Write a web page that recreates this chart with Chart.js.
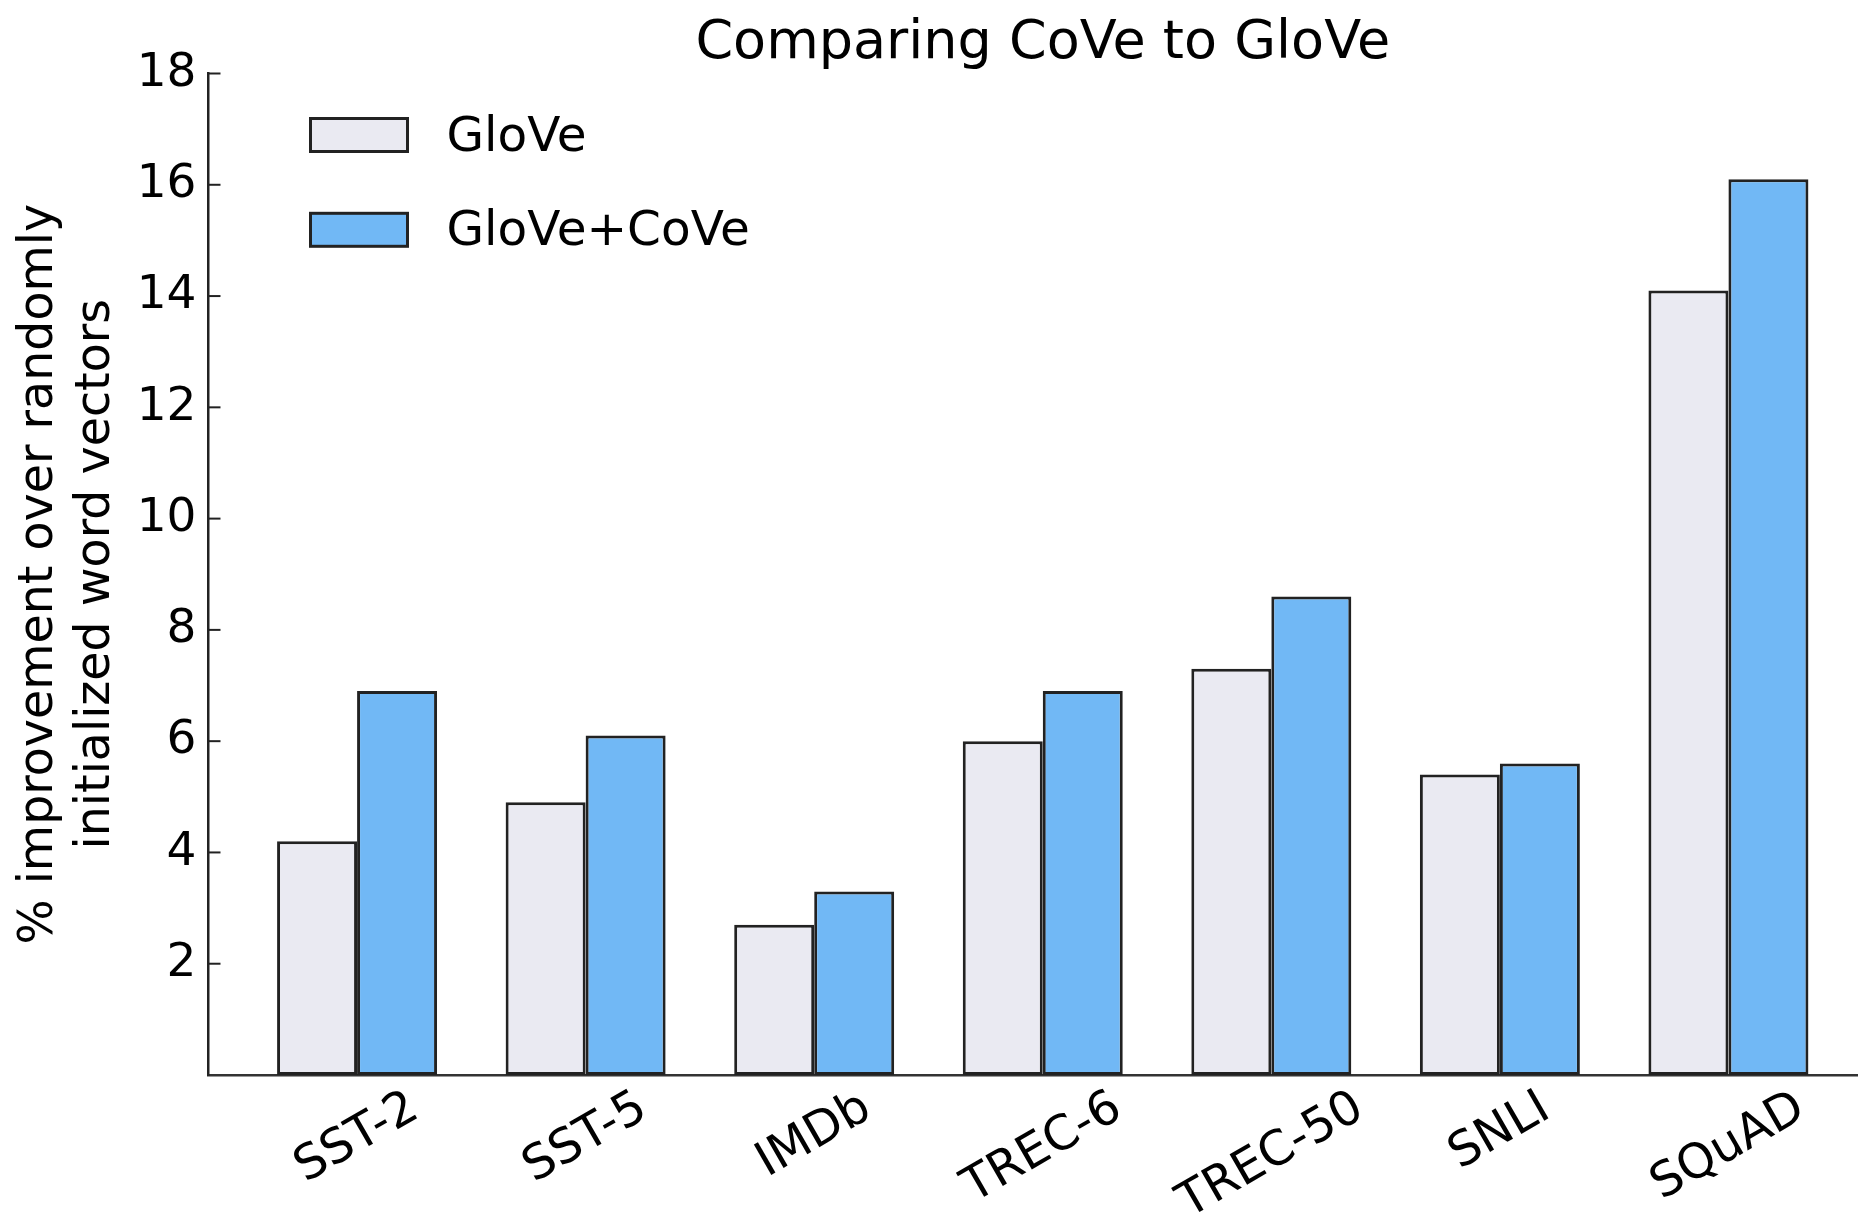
<!DOCTYPE html>
<html><head><meta charset="utf-8">
<script src="https://cdn.jsdelivr.net/npm/chart.js@4.4.1/dist/chart.umd.min.js"></script>
<style>html,body{margin:0;padding:0;overflow:hidden;background:#fff;width:1858px;height:1217px}canvas{display:block}</style>
</head><body>
<canvas id="c" width="2086" height="1217"></canvas>
<script>
const categories = ['SST-2', 'SST-5', 'IMDb', 'TREC-6', 'TREC-50', 'SNLI', 'SQuAD'];
const seriesNames = ['GloVe', 'GloVe+CoVe'];
const gloveValues = [4.2, 4.9, 2.7, 6.0, 7.3, 5.4, 14.1];
const coveValues = [6.9, 6.1, 3.3, 6.9, 8.6, 5.6, 16.1];
const yTickValues = [2, 4, 6, 8, 10, 12, 14, 16, 18];
const chartTitle = 'Comparing CoVe to GloVe';
const yAxisTitle = ['% improvement over randomly', 'initialized word vectors'];

const FONT = 'DejaVu Sans';
Chart.defaults.font.family = FONT;
Chart.defaults.color = '#000';

const inwardTicks = {
  id: 'inwardTicks',
  afterDraw(chart) {
    const ys = chart.scales.y, ctx = chart.ctx;
    ctx.save();
    ctx.strokeStyle = '#222';
    ctx.lineWidth = 2;
    yTickValues.forEach(v => {
      const py = ys.getPixelForValue(v);
      ctx.beginPath();
      ctx.moveTo(ys.right, py);
      ctx.lineTo(ys.right + 12, py);
      ctx.stroke();
    });
    ctx.restore();
  }
};

const xLabels = {
  id: 'xLabels',
  afterDraw(chart) {
    const xs = chart.scales.x, ctx = chart.ctx;
    ctx.save();
    ctx.font = '48px "' + FONT + '"';
    ctx.fillStyle = '#000';
    ctx.textAlign = 'center';
    ctx.textBaseline = 'middle';
    categories.forEach((lab, i) => {
      const w = ctx.measureText(lab).width;
      const px = xs.getPixelForValue(i);
      const py = xs.top + 6 + w * 0.25 + 24;
      ctx.save();
      ctx.translate(px, py);
      ctx.rotate(-Math.PI / 6);
      ctx.fillText(lab, 0, 0);
      ctx.restore();
    });
    ctx.restore();
  }
};

const boxLegend = {
  id: 'boxLegend',
  afterDraw(chart) {
    const ctx = chart.ctx, ca = chart.chartArea;
    ctx.save();
    ctx.font = '48.5px "' + FONT + '"';
    ctx.textAlign = 'left';
    ctx.textBaseline = 'middle';
    chart.data.datasets.forEach((ds, k) => {
      const bx = ca.left + 102, by = ca.top + 45 + k * 94.8;
      ctx.fillStyle = ds.backgroundColor;
      ctx.fillRect(bx, by, 97, 33);
      ctx.strokeStyle = '#222';
      ctx.lineWidth = 3;
      ctx.strokeRect(bx, by, 97, 33);
      ctx.fillStyle = '#000';
      ctx.fillText(ds.label, bx + 136, by + 19.5);
    });
    ctx.restore();
  }
};

new Chart(document.getElementById('c'), {
  type: 'bar',
  data: {
    datasets: [
      { label: seriesNames[0], data: gloveValues.map((v, i) => ({ x: i, y: v })),
        backgroundColor: '#EAEAF2', borderColor: '#222', borderWidth: 3, borderSkipped: false,
        categoryPercentage: 0.7, barPercentage: 1.0 },
      { label: seriesNames[1], data: coveValues.map((v, i) => ({ x: i, y: v })),
        backgroundColor: '#71B8F5', borderColor: '#222', borderWidth: 3, borderSkipped: false,
        categoryPercentage: 0.7, barPercentage: 1.0 }
    ]
  },
  options: {
    responsive: false,
    animation: false,
    devicePixelRatio: 1,
    layout: { padding: { left: 0, right: 209, top: 0, bottom: 0 } },
    plugins: {
      legend: { display: false },
      tooltip: { enabled: false },
      title: { display: true, text: chartTitle, color: '#000', fullSize: false,
        font: { size: 54, weight: 'normal', lineHeight: 1.0 },
        padding: { top: 17, bottom: 2.5 } }
    },
    scales: {
      x: {
        type: 'linear', min: -0.65, max: 6.65, offset: false,
        afterBuildTicks: s => { s.ticks = categories.map((c, i) => ({ value: i })); },
        ticks: { display: false },
        grid: { display: false, drawTicks: false },
        border: { display: true, color: '#333', width: 2.5 },
        afterFit: s => { s.height = 142; }
      },
      y: {
        min: 0, max: 18,
        afterBuildTicks: s => { s.ticks = yTickValues.map(v => ({ value: v })); },
        ticks: { font: { size: 47 }, color: '#000', padding: 12 },
        grid: { display: false, drawTicks: false },
        border: { display: true, color: '#222', width: 2.5 },
        title: { display: true, text: yAxisTitle, color: '#000',
          font: { size: 47.5, lineHeight: 1.2 }, padding: { top: 11.5, bottom: 0 } },
        afterFit: s => { s.width = 208.5; }
      }
    }
  },
  plugins: [inwardTicks, xLabels, boxLegend]
});
</script>
</body></html>
